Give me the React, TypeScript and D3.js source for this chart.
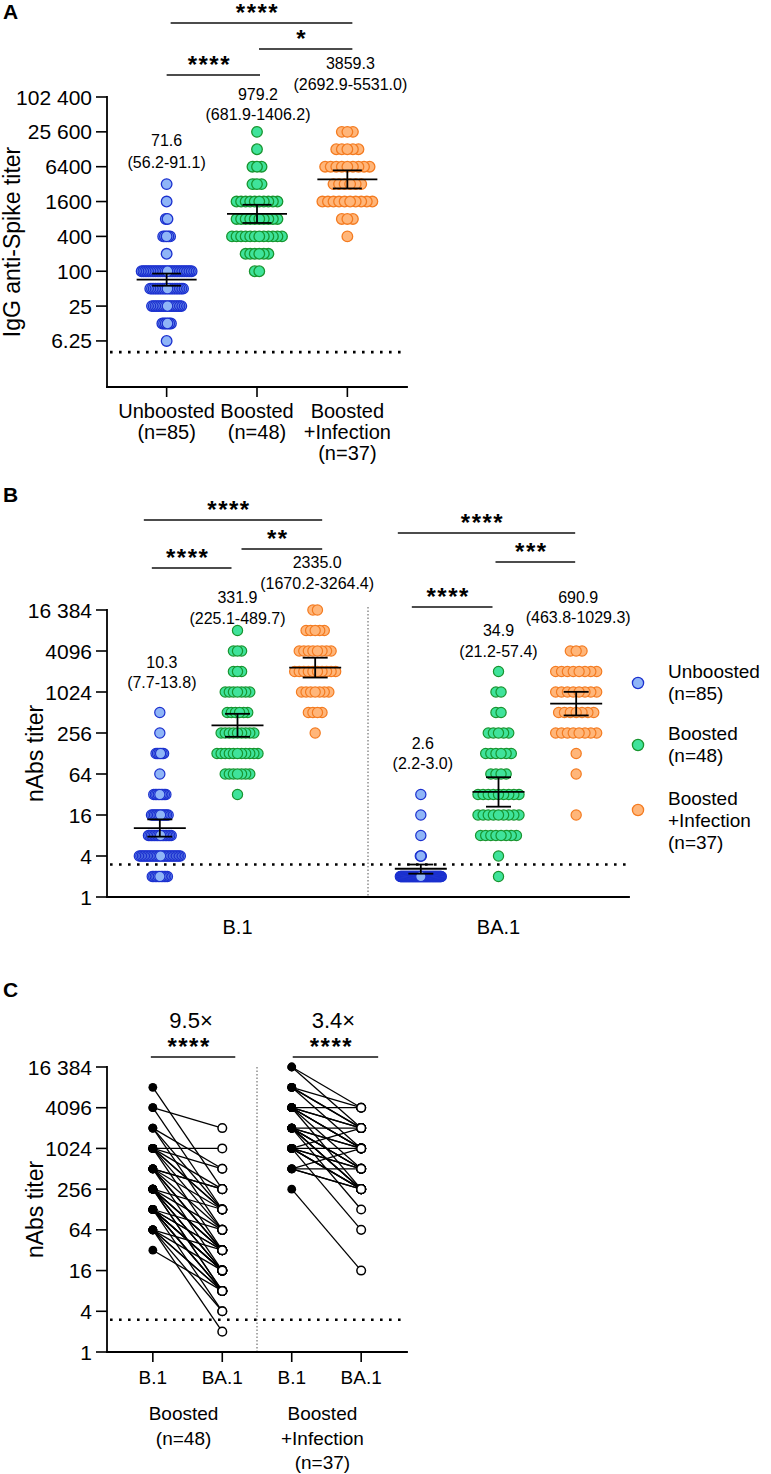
import React from 'react';
import * as d3 from 'd3';

const FONT = '"Liberation Sans", Arial, Helvetica, sans-serif';

// ---------- shared ----------
const groups = ['Unboosted', 'Boosted', 'Boosted+Infection'];
const FILL = ['#8fb5f7', '#3fe39b', '#ffb67a'];
const STROKE = ['#1b30cf', '#18952f', '#f47b20'];

// ---------- Panel A : IgG anti-Spike ----------
const groupLabelsA = [['Unboosted', '(n=85)'], ['Boosted', '(n=48)'], ['Boosted', '+Infection', '(n=37)']];
const ticksA = [6.25, 25, 100, 400, 1600, 6400, 25600, 102400];
const tickLabelsA = ['6.25', '25', '100', '400', '1600', '6400', '25 600', '102 400'];
// [titer, number of participants]
const igUnboosted = [[3200, 1], [1600, 1], [800, 2], [400, 5], [200, 1], [100, 30], [50, 20], [25, 18], [12.5, 6], [6.25, 1]];
const igBoosted = [[25600, 1], [12800, 1], [6400, 3], [3200, 3], [1600, 10], [800, 10], [400, 12], [200, 6], [100, 2]];
const igBoostedInf = [[25600, 3], [12800, 5], [6400, 9], [3200, 6], [1600, 10], [800, 3], [400, 1]];
const gmA = [71.6, 979.2, 3859.3];
const ciLoA = [56.2, 681.9, 2692.9];
const ciHiA = [91.1, 1406.2, 5531.0];
const gmTextA = ['71.6', '979.2', '3859.3'];
const ciTextA = ['(56.2-91.1)', '(681.9-1406.2)', '(2692.9-5531.0)'];
const lodA = 4;
const sigA = [[0, 2, '****'], [1, 2, '*'], [0, 1, '****']];

// ---------- Panel B : nAbs by variant ----------
const variants = ['B.1', 'BA.1'];
const ticksN = [1, 4, 16, 64, 256, 1024, 4096, 16384];
const tickLabelsN = ['1', '4', '16', '64', '256', '1024', '4096', '16 384'];
const nabB1Unboosted = [[512, 1], [256, 1], [128, 6], [64, 1], [32, 9], [16, 12], [8, 16], [4, 28], [2, 11]];
const nabB1Boosted = [[8192, 1], [4096, 3], [2048, 3], [1024, 7], [512, 6], [256, 9], [128, 11], [64, 7], [32, 1]];
const nabB1BoostedInf = [[16384, 2], [8192, 5], [4096, 8], [2048, 10], [1024, 7], [512, 4], [256, 1]];
const nabBA1Unboosted = [[32, 1], [16, 1], [8, 1], [4, 3], [2, 79]];
const nabBA1Boosted = [[2048, 1], [1024, 2], [512, 2], [256, 5], [128, 6], [64, 4], [32, 9], [16, 9], [8, 8], [4, 1], [2, 1]];
const nabBA1BoostedInf = [[4096, 3], [2048, 8], [1024, 8], [512, 7], [256, 8], [128, 1], [64, 1], [16, 1]];
const gmB1 = [10.3, 331.9, 2335.0];
const ciLoB1 = [7.7, 225.1, 1670.2];
const ciHiB1 = [13.8, 489.7, 3264.4];
const gmBA1 = [2.6, 34.9, 690.9];
const ciLoBA1 = [2.2, 21.2, 463.8];
const ciHiBA1 = [3.0, 57.4, 1029.3];
const gmTextB1 = ['10.3', '331.9', '2335.0'];
const ciTextB1 = ['(7.7-13.8)', '(225.1-489.7)', '(1670.2-3264.4)'];
const gmTextBA1 = ['2.6', '34.9', '690.9'];
const ciTextBA1 = ['(2.2-3.0)', '(21.2-57.4)', '(463.8-1029.3)'];
const lodN = 3;
const sigB1 = [[0, 2, '****'], [1, 2, '**'], [0, 1, '****']];
const sigBA1 = [[0, 2, '****'], [1, 2, '***'], [0, 1, '****']];
const legendLabels = [['Unboosted', '(n=85)'], ['Boosted', '(n=48)'], ['Boosted', '+Infection', '(n=37)']];

// ---------- Panel C : paired B.1 vs BA.1 ----------
const boostedB1 = [8192, 4096, 4096, 2048, 2048, 2048,
  1024, 1024, 1024, 1024, 1024, 1024, 1024,
  512, 512, 512, 512, 512, 512, 512,
  256, 256, 256, 256, 256, 256, 256, 256, 256, 256,
  128, 128, 128, 128, 128, 128, 128, 128, 128, 128, 128,
  64, 64, 64, 64, 64, 64, 32];
const boostedBA1 = [256, 2048, 128, 128, 512, 64,
  1024, 512, 128, 256, 32, 128, 64,
  256, 128, 32, 64, 16, 32, 256,
  64, 32, 16, 32, 16, 8, 32, 16, 128, 8,
  16, 32, 8, 16, 4, 32, 8, 16, 64, 8, 16,
  8, 16, 4, 32, 8, 2, 8];
const boostedInfB1 = [16384, 16384, 8192, 8192, 8192, 8192,
  4096, 4096, 4096, 4096, 4096, 4096, 4096, 4096,
  2048, 2048, 2048, 2048, 2048, 2048, 2048, 2048, 2048, 2048,
  1024, 1024, 1024, 1024, 1024, 1024, 1024, 1024,
  512, 512, 512, 512, 256];
const boostedInfBA1 = [4096, 2048, 4096, 2048, 1024, 2048,
  4096, 2048, 1024, 2048, 512, 1024, 256, 1024,
  2048, 1024, 512, 256, 1024, 512, 256, 128, 512, 256,
  2048, 512, 256, 512, 256, 1024, 64, 256,
  256, 1024, 256, 512, 16];
const foldC = ['9.5×', '3.4×'];
const groupLabelsC = [['Boosted', '(n=48)'], ['Boosted', '+Infection', '(n=37)']];
const sigC = [[0, 1, '****'], [2, 3, '****']];

// ---------- layout (pixels) ----------
const AX = 107;
const yA = d3.scaleLog().base(2).domain([1, 102400]).range([387, 97]);
const xA = d3.scalePoint().domain(groups).range([107, 407]).padding(0.66);
const yB = d3.scaleLog().base(2).domain([1, 16384]).range([897, 610]);
const xVar = d3.scaleBand().domain(variants).range([107, 629]);
const xInner = d3.scalePoint().domain(groups).range([0, xVar.bandwidth()]).padding(0.68);
const yC = d3.scaleLog().base(2).domain([1, 16384]).range([1352, 1067]);
const keysC = ['Boosted|B.1', 'Boosted|BA.1', 'Inf|B.1', 'Inf|BA.1'];
const tickTextC = ['B.1', 'BA.1', 'B.1', 'BA.1'];
const xC = d3.scalePoint().domain(keysC).range([107, 407]).padding(0.66);

const annA = { y1: [140, 94, 63], y2: [162, 114, 84], dx: [0, 1, 3] };
const annB1 = { y1: [662, 597, 562], y2: [682, 618, 583], dx: [2, 0, 2] };
const annBA1 = { y1: [743, 630, 597], y2: [763, 651, 617], dx: [2, 0, 2] };
const sigLayA = [[23, 4, 5], [49, 2, 5], [75, 0, 3]];
const sigLayB1 = [[520, -16, 7], [549, 4, 7], [568, -8, -6]];
const sigLayBA1 = [[533, -23, -1], [562, -3, -1], [607, -9, -6]];
const sigLayC = [[1057, -2, 13], [1057, 1, 17]];

function swarm(levels: number[][], cap: number, maxStep: number) {
  const maxRow = d3.max(levels, (d) => d[1]) as number;
  const step = maxRow > 1 ? Math.min(maxStep, cap / (maxRow - 1)) : 0;
  const out: { v: number; dx: number }[] = [];
  levels.forEach(([v, n]) => {
    const offs = d3.range(n).map((i) => (i - (n - 1) / 2) * step);
    offs.sort((a, b) => Math.abs(b) - Math.abs(a));
    offs.forEach((o) => out.push({ v, dx: o }));
  });
  return out;
}

function YAxis({ y, ticks, labels }: any) {
  const [r0, r1] = y.range();
  return (
    <g>
      <line x1={AX} x2={AX} y1={r0} y2={r1} stroke="#000" strokeWidth={1.8} strokeLinecap="square" />
      {ticks.map((t: number, i: number) => (
        <g key={i}>
          <line x1={AX - 11} x2={AX} y1={y(t)} y2={y(t)} stroke="#000" strokeWidth={1.6} />
          <text x={AX - 15} y={y(t) + 7.5} textAnchor="end" fontSize={21}>{labels[i]}</text>
        </g>
      ))}
    </g>
  );
}

function Stars({ x1, x2, y, label }: any) {
  return (
    <g>
      <line x1={x1} x2={x2} y1={y} y2={y} stroke="#111" strokeWidth={1.4} />
      <text x={(x1 + x2) / 2 - 4} y={y - 16 + 14} textAnchor="middle" fontSize={24} fontWeight="bold" letterSpacing={1.5}>{label}</text>
    </g>
  );
}

function MeanCI({ cx, y, gm, lo, hi, hw, cw }: any) {
  return (
    <g stroke="#000" strokeWidth={1.8}>
      <line x1={cx - hw} x2={cx + hw} y1={y(gm)} y2={y(gm)} />
      <line x1={cx} x2={cx} y1={y(lo)} y2={y(hi)} />
      <line x1={cx - cw} x2={cx + cw} y1={y(lo)} y2={y(lo)} />
      <line x1={cx - cw} x2={cx + cw} y1={y(hi)} y2={y(hi)} />
    </g>
  );
}

export default function App() {
  const colsA = [igUnboosted, igBoosted, igBoostedInf];
  const colsB: Record<string, number[][][]> = {
    'B.1': [nabB1Unboosted, nabB1Boosted, nabB1BoostedInf],
    'BA.1': [nabBA1Unboosted, nabBA1Boosted, nabBA1BoostedInf],
  };
  const statsB: Record<string, any> = {
    'B.1': { gm: gmB1, lo: ciLoB1, hi: ciHiB1, t1: gmTextB1, t2: ciTextB1, ann: annB1, sig: sigB1, lay: sigLayB1 },
    'BA.1': { gm: gmBA1, lo: ciLoBA1, hi: ciHiBA1, t1: gmTextBA1, t2: ciTextBA1, ann: annBA1, sig: sigBA1, lay: sigLayBA1 },
  };
  const xb = (v: string, g: string) => (xVar(v) as number) + (xInner(g) as number);
  const pairsC = [
    { b1: boostedB1, ba1: boostedBA1, k0: keysC[0], k1: keysC[1] },
    { b1: boostedInfB1, ba1: boostedInfBA1, k0: keysC[2], k1: keysC[3] },
  ];

  return (
    <svg width={771} height={1474} style={{ position: 'absolute', left: 0, top: 0, background: '#fff' }} fontFamily={FONT}>
      {/* ================= Panel A ================= */}
      <text x={3} y={19} fontSize={21} fontWeight="bold">A</text>
      <text transform={`translate(20,${(yA.range()[0] + yA.range()[1]) / 2}) rotate(-90)`} textAnchor="middle" fontSize={23}>IgG anti-Spike titer</text>
      <line x1={110} x2={405} y1={yA(lodA)} y2={yA(lodA)} stroke="#000" strokeWidth={2.6} strokeDasharray="2.6 6.4" />
      {colsA.map((col, gi) =>
        swarm(col, 50, 6).map((d, k) => (
          <circle key={`a${gi}-${k}`} cx={(xA(groups[gi]) as number) + d.dx} cy={yA(d.v)} r={5.3}
            fill={FILL[gi]} stroke={STROKE[gi]} strokeWidth={1.3} />
        ))
      )}
      {groups.map((g, gi) => (
        <MeanCI key={`ma${gi}`} cx={xA(g)} y={yA} gm={gmA[gi]} lo={ciLoA[gi]} hi={ciHiA[gi]} hw={30} cw={14.5} />
      ))}
      <YAxis y={yA} ticks={ticksA} labels={tickLabelsA} />
      <line x1={AX} x2={407} y1={yA.range()[0]} y2={yA.range()[0]} stroke="#000" strokeWidth={1.8} strokeLinecap="square" />
      {groups.map((g, gi) => (
        <g key={`xa${gi}`}>
          <line x1={xA(g)} x2={xA(g)} y1={yA.range()[0]} y2={yA.range()[0] + 10} stroke="#000" strokeWidth={1.6} />
          {groupLabelsA[gi].map((s, li) => (
            <text key={li} x={xA(g)} y={418 + li * 21} textAnchor="middle" fontSize={20}>{s}</text>
          ))}
          <text x={(xA(g) as number) + annA.dx[gi]} y={annA.y1[gi] + 5.5} textAnchor="middle" fontSize={16}>{gmTextA[gi]}</text>
          <text x={(xA(g) as number) + annA.dx[gi]} y={annA.y2[gi] + 5.5} textAnchor="middle" fontSize={16}>{ciTextA[gi]}</text>
        </g>
      ))}
      {sigA.map(([a, b, lab], i) => (
        <Stars key={`sa${i}`} x1={(xA(groups[a as number]) as number) + sigLayA[i][1]}
          x2={(xA(groups[b as number]) as number) + sigLayA[i][2]} y={sigLayA[i][0]} label={lab} />
      ))}

      {/* ================= Panel B ================= */}
      <text x={3} y={502} fontSize={21} fontWeight="bold">B</text>
      <text transform={`translate(43,${(yB.range()[0] + yB.range()[1]) / 2}) rotate(-90)`} textAnchor="middle" fontSize={23}>nAbs titer</text>
      <line x1={xVar('BA.1')} x2={xVar('BA.1')} y1={607} y2={yB.range()[0]} stroke="#555" strokeWidth={1} strokeDasharray="1.5 2" />
      <line x1={110} x2={628} y1={yB(lodN)} y2={yB(lodN)} stroke="#000" strokeWidth={2.6} strokeDasharray="2.6 6.4" />
      {variants.map((v) => (
        <g key={`bv${v}`}>
          {colsB[v].map((col, gi) =>
            swarm(col, 41, 6).map((d, k) => (
              <circle key={`b${v}${gi}-${k}`} cx={xb(v, groups[gi]) + d.dx} cy={yB(d.v)} r={5.1}
                fill={FILL[gi]} stroke={STROKE[gi]} strokeWidth={1.2} />
            ))
          )}
          {groups.map((g, gi) => (
            <g key={`mb${v}${gi}`}>
              <MeanCI cx={xb(v, g)} y={yB} gm={statsB[v].gm[gi]} lo={statsB[v].lo[gi]} hi={statsB[v].hi[gi]} hw={26} cw={12.5} />
              <text x={xb(v, g) + statsB[v].ann.dx[gi]} y={statsB[v].ann.y1[gi] + 5.5} textAnchor="middle" fontSize={16}>{statsB[v].t1[gi]}</text>
              <text x={xb(v, g) + statsB[v].ann.dx[gi]} y={statsB[v].ann.y2[gi] + 5.5} textAnchor="middle" fontSize={16}>{statsB[v].t2[gi]}</text>
            </g>
          ))}
          {statsB[v].sig.map(([a, b, lab]: any, i: number) => (
            <Stars key={`sb${v}${i}`} x1={xb(v, groups[a]) + statsB[v].lay[i][1]} x2={xb(v, groups[b]) + statsB[v].lay[i][2]}
              y={statsB[v].lay[i][0]} label={lab} />
          ))}
          <text x={(xVar(v) as number) + xVar.bandwidth() / 2} y={934} textAnchor="middle" fontSize={20}>{v}</text>
        </g>
      ))}
      <YAxis y={yB} ticks={ticksN} labels={tickLabelsN} />
      <line x1={AX} x2={629} y1={yB.range()[0]} y2={yB.range()[0]} stroke="#000" strokeWidth={1.8} strokeLinecap="square" />
      {legendLabels.map((lines, gi) => {
        const top = [671, 733, 798][gi];
        const cy = [683, 745, 810][gi];
        return (
          <g key={`lg${gi}`}>
            <circle cx={638} cy={cy} r={5.6} fill={FILL[gi]} stroke={STROKE[gi]} strokeWidth={1.3} />
            {lines.map((s, li) => (
              <text key={li} x={668} y={top + 7 + li * 22} fontSize={19}>{s}</text>
            ))}
          </g>
        );
      })}

      {/* ================= Panel C ================= */}
      <text x={3} y={997} fontSize={21} fontWeight="bold">C</text>
      <text transform={`translate(43,${(yC.range()[0] + yC.range()[1]) / 2}) rotate(-90)`} textAnchor="middle" fontSize={23}>nAbs titer</text>
      <line x1={((xC(keysC[1]) as number) + (xC(keysC[2]) as number)) / 2} x2={((xC(keysC[1]) as number) + (xC(keysC[2]) as number)) / 2}
        y1={yC.range()[1]} y2={yC.range()[0]} stroke="#555" strokeWidth={1} strokeDasharray="1.5 2" />
      <line x1={110} x2={405} y1={yC(lodN)} y2={yC(lodN)} stroke="#000" strokeWidth={2.6} strokeDasharray="2.6 6.4" />
      {pairsC.map((p, pi) => (
        <g key={`pc${pi}`}>
          {p.b1.map((v, i) => (
            <line key={`l${i}`} x1={xC(p.k0)} x2={xC(p.k1)} y1={yC(v)} y2={yC(p.ba1[i])} stroke="#000" strokeWidth={1.3} />
          ))}
          {p.b1.map((v, i) => (
            <circle key={`f${i}`} cx={xC(p.k0)} cy={yC(v)} r={4.4} fill="#000" />
          ))}
          {p.ba1.map((v, i) => (
            <circle key={`o${i}`} cx={xC(p.k1)} cy={yC(v)} r={4.3} fill="#fff" stroke="#000" strokeWidth={1.5} />
          ))}
        </g>
      ))}
      <YAxis y={yC} ticks={ticksN} labels={tickLabelsN} />
      <line x1={AX} x2={407} y1={yC.range()[0]} y2={yC.range()[0]} stroke="#000" strokeWidth={1.8} strokeLinecap="square" />
      {keysC.map((k, i) => (
        <g key={`xc${i}`}>
          <line x1={xC(k)} x2={xC(k)} y1={yC.range()[0]} y2={yC.range()[0] + 10} stroke="#000" strokeWidth={1.6} />
          <text x={xC(k)} y={1384} textAnchor="middle" fontSize={19}>{tickTextC[i]}</text>
        </g>
      ))}
      {groupLabelsC.map((lines, gi) => {
        const mid = ((xC(keysC[gi * 2]) as number) + (xC(keysC[gi * 2 + 1]) as number)) / 2 - 4;
        return lines.map((s, li) => (
          <text key={`gc${gi}${li}`} x={mid} y={1420 + li * 24.5} textAnchor="middle" fontSize={19}>{s}</text>
        ));
      })}
      {sigC.map(([a, b, lab], i) => {
        const x1 = (xC(keysC[a as number]) as number) + sigLayC[i][1];
        const x2 = (xC(keysC[b as number]) as number) + sigLayC[i][2];
        return (
          <g key={`sc${i}`}>
            <Stars x1={x1} x2={x2} y={sigLayC[i][0]} label={lab} />
            <text x={(x1 + x2) / 2 - 2} y={1028} textAnchor="middle" fontSize={22}>{foldC[i]}</text>
          </g>
        );
      })}
    </svg>
  );
}
